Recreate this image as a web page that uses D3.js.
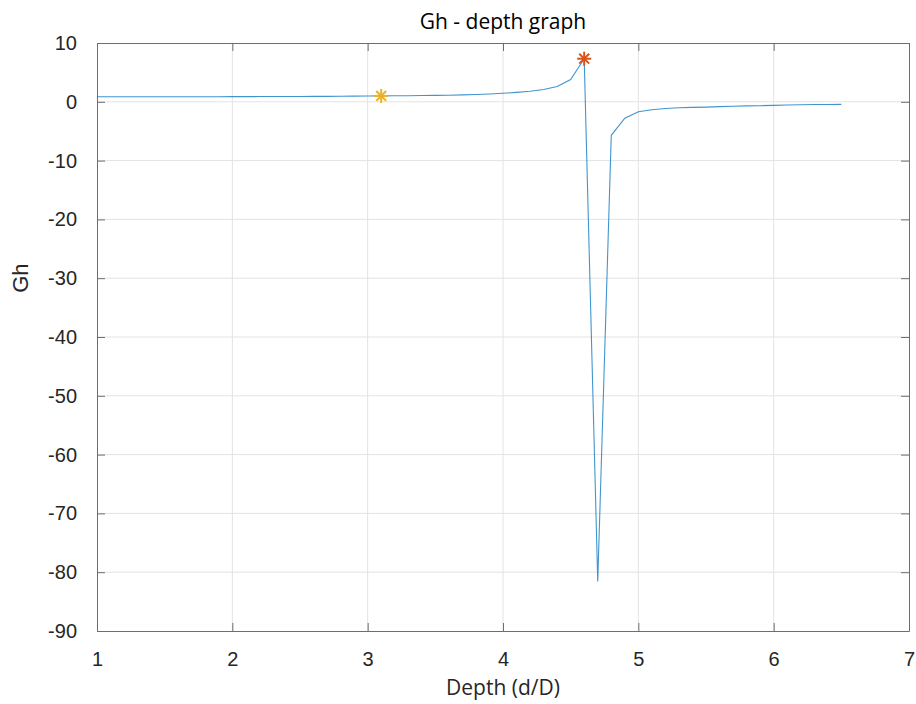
<!DOCTYPE html>
<meta charset="utf-8">
<style>
	body { margin: 0; background: #fff; }
	.tick text { font: 20px "Liberation Sans", Arial, sans-serif; fill: #262626; }
	.title { font: 21px "Open Sans", sans-serif; fill: #000; text-anchor: middle; }
	.xlabel { font: 21px "Open Sans", sans-serif; fill: #262626; text-anchor: middle; }
	.ylabel { font: 22px "Liberation Sans", Arial, sans-serif; fill: #262626; text-anchor: middle; }
	.grid line { stroke: #e3e3e3; stroke-width: 1; }
	.axis path, .axis line { stroke: #6e6e6e; }
</style>
<body>
<script src="https://d3js.org/d3.v7.min.js"></script>
<script>

	var depth = [1.0, 1.1, 1.2, 1.3, 1.4, 1.5, 1.6, 1.7, 1.8, 1.9,
		2.0, 2.1, 2.2, 2.3, 2.4, 2.5, 2.6, 2.7, 2.8, 2.9,
		3.0, 3.1, 3.2, 3.3, 3.4, 3.5, 3.6, 3.7, 3.8, 3.9,
		4.0, 4.1, 4.2, 4.3, 4.4, 4.5, 4.6, 4.7, 4.8, 4.9,
		5.0, 5.1, 5.2, 5.3, 5.4, 5.5, 5.6, 5.7, 5.8, 5.9,
		6.0, 6.1, 6.2, 6.3, 6.4, 6.5];
	var gh = [0.85, 0.85, 0.85, 0.86, 0.86, 0.86, 0.86, 0.87, 0.87, 0.87,
		0.88, 0.88, 0.89, 0.89, 0.90, 0.91, 0.92, 0.93, 0.94, 0.96,
		0.98, 1.0, 1.02, 1.04, 1.06, 1.09, 1.12, 1.17, 1.24, 1.33,
		1.45, 1.6, 1.8, 2.1, 2.6, 3.8, 7.33, -81.6, -5.7, -2.8,
		-1.68, -1.35, -1.15, -1.02, -0.95, -0.9, -0.82, -0.76, -0.7, -0.66,
		-0.6, -0.55, -0.5, -0.47, -0.45, -0.43];
	var markX = [3.1, 4.6];
	var markY = [1.0, 7.33];
	var markColor = ["#EDB120", "#D95319"];
	var xTicks = [1, 2, 3, 4, 5, 6, 7];
	var yTicks = [10, 0, -10, -20, -30, -40, -50, -60, -70, -80, -90];

	var width = 916, height = 704;
	var margin = {top: 43, right: 7, bottom: 73, left: 97};
	var w = width - margin.left - margin.right,
		h = height - margin.top - margin.bottom;

	var x = d3.scaleLinear().domain([1, 7]).range([0, w]);
	var y = d3.scaleLinear().domain([-90, 10]).range([h, 0]);
	var fmt = function(d) { return String(d); };

	var svg = d3.select("body").append("svg")
		.attr("width", width)
		.attr("height", height);

	var g = svg.append("g")
		.attr("transform", "translate(" + margin.left + "," + margin.top + ")");

	// grid
	g.append("g").attr("class", "grid")
		.selectAll("line").data(xTicks.slice(1, -1)).enter().append("line")
		.attr("x1", x).attr("x2", x).attr("y1", 0).attr("y2", h);
	g.append("g").attr("class", "grid")
		.selectAll("line").data(yTicks.slice(1, -1)).enter().append("line")
		.attr("y1", y).attr("y2", y).attr("x1", 0).attr("x2", w);

	// axes, ticks pointing inward, box on
	g.append("g").attr("class", "axis")
		.attr("transform", "translate(0," + h + ")")
		.call(d3.axisBottom(x).tickValues(xTicks).tickFormat(fmt).tickSize(-8).tickPadding(16).tickSizeOuter(0))
		.selectAll("text").attr("dy", "0.95em");
	g.append("g").attr("class", "axis")
		.call(d3.axisTop(x).tickValues(xTicks).tickSize(-8).tickFormat("").tickSizeOuter(0));
	g.append("g").attr("class", "axis")
		.call(d3.axisLeft(y).tickValues(yTicks).tickFormat(fmt).tickSize(-8).tickPadding(20).tickSizeOuter(0));
	g.append("g").attr("class", "axis")
		.attr("transform", "translate(" + w + ",0)")
		.call(d3.axisRight(y).tickValues(yTicks).tickSize(-8).tickFormat("").tickSizeOuter(0));

	var line = d3.line()
		.x(function(d, i) { return x(depth[i]); })
		.y(function(d) { return y(d); });

	g.append("path")
		.datum(gh)
		.attr("d", line)
		.attr("fill", "none")
		.attr("stroke", "#0072BD")
		.attr("stroke-opacity", 0.75)
		.attr("stroke-width", 1.1);

	// star markers
	var star = g.selectAll(".star")
		.data(markX)
		.enter().append("g")
		.attr("class", "star")
		.attr("transform", function(d, i) { return "translate(" + x(d) + "," + y(markY[i]) + ")"; });
	[0, 45, 90, 135].forEach(function(a) {
		star.append("line")
			.attr("x1", -7).attr("x2", 7).attr("y1", 0).attr("y2", 0)
			.attr("transform", "rotate(" + a + ")")
			.attr("stroke", function(d, i) { return markColor[i]; })
			.attr("stroke-width", 2);
	});

	svg.append("text").attr("class", "title")
		.attr("x", margin.left + w / 2).attr("y", 29)
		.text("Gh - depth graph");

	svg.append("text").attr("class", "xlabel")
		.attr("x", margin.left + w / 2).attr("y", 695)
		.text("Depth (d/D)");

	svg.append("text").attr("class", "ylabel")
		.attr("transform", "translate(28," + (margin.top + y(-30)) + ") rotate(-90)")
		.text("Gh");
</script>
